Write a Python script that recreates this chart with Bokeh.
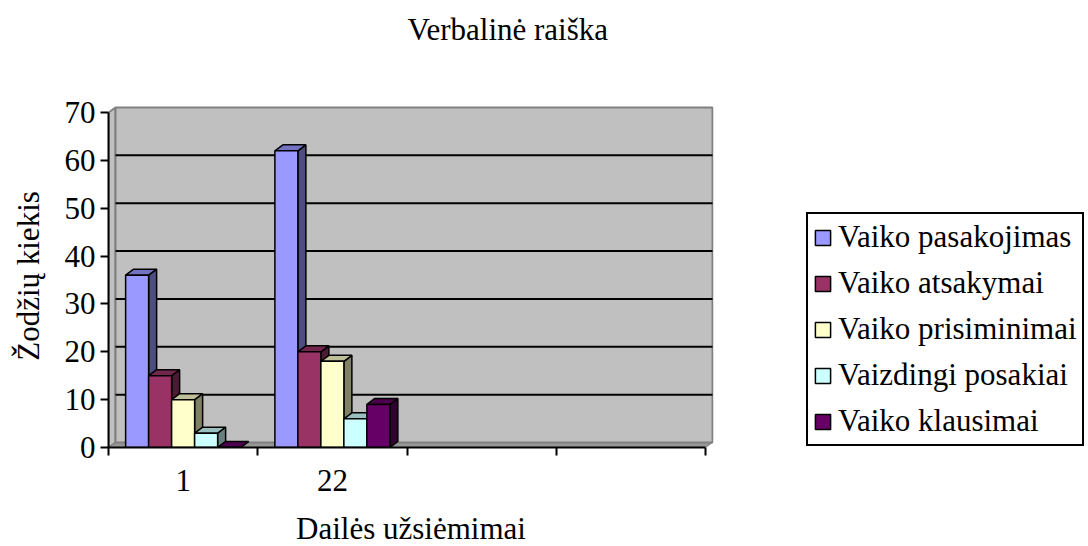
from bokeh.plotting import figure
from bokeh.models import FixedTicker, Legend, LegendItem, Range1d, Title
from bokeh.embed import file_html
from bokeh.resources import INLINE

# ---------------- data ----------------
categories = ["1", "22", "", ""]
series_names = ["Vaiko pasakojimas", "Vaiko atsakymai", "Vaiko prisiminimai",
                "Vaizdingi posakiai", "Vaiko klausimai"]
vaiko_pasakojimas = [36, 62]
vaiko_atsakymai = [15, 20]
vaiko_prisiminimai = [10, 18]
vaizdingi_posakiai = [3, 6]
vaiko_klausimai = [0, 9]
series_values = [vaiko_pasakojimas, vaiko_atsakymai, vaiko_prisiminimai,
                 vaizdingi_posakiai, vaiko_klausimai]
y_ticks = [0, 10, 20, 30, 40, 50, 60, 70]
y_max = 70

title_text = "Verbalinė raiška"
x_title = "Dailės užsiėmimai"
y_title = "Žodžių kiekis"

# ---------------- style ----------------
FONT = "Liberation Serif"
FS = "31px"
TXT = "black"
front_colors = ["#9999FF", "#993366", "#FFFFCC", "#CCFFFF", "#660066"]
side_colors = ["#4D4D80", "#4D1A33", "#808066", "#668080", "#330033"]
top_colors = ["#7373BF", "#73264D", "#BFBF99", "#99BFBF", "#4D004D"]

FW, FH = 605, 343
CAT_PX = 149.25               # pixels per category
VAL_PX = 335.0 / y_max        # pixels per unit value
ux = 1.0 / CAT_PX
uy = 1.0 / VAL_PX
x_end = FW * ux
y_end = FH * uy
n_cat = len(categories)

bar_w = 23 * ux
bar_dx, bar_dy = 8 * ux, 6 * uy
wall_dx, wall_dy = 7 * ux, 5 * uy

p = figure(frame_width=FW, frame_height=FH,
           x_range=Range1d(0, x_end), y_range=Range1d(0, y_end),
           output_backend="svg", toolbar_location=None, title=None,
           min_border_left=108, min_border_right=375,
           min_border_top=104, min_border_bottom=99,
           background_fill_color="white", border_fill_color="white")
p.outline_line_color = None
p.xgrid.visible = False
p.ygrid.visible = False

# ---------------- walls ----------------
p.patch([0, wall_dx, wall_dx, 0], [0, wall_dy, y_max + wall_dy, y_max],
        fill_color="#C0C0C0", line_color="#808080", line_width=2)
p.patch([0, n_cat, n_cat + wall_dx, wall_dx], [0, 0, wall_dy, wall_dy],
        fill_color="#969696", line_color="#808080", line_width=1)
p.quad(left=wall_dx, right=n_cat + wall_dx, bottom=wall_dy, top=y_max + wall_dy,
       fill_color="#C0C0C0", line_color="#808080", line_width=2)
grid_y = [t + wall_dy for t in y_ticks[1:-1]]
p.segment(x0=[wall_dx] * len(grid_y), x1=[n_cat + wall_dx] * len(grid_y),
          y0=grid_y, y1=grid_y, line_color="black", line_width=2)

# ---------------- 3D bars ----------------
group_off = (1.0 - len(series_names) * bar_w) / 2.0
legend_items = []
for k, (name, vals) in enumerate(zip(series_names, series_values)):
    lefts, rights, tops = [], [], []
    side_xs, side_ys, top_xs, top_ys = [], [], [], []
    for ci, v in enumerate(vals):
        x0 = ci + group_off + k * bar_w
        x1 = x0 + bar_w
        lefts.append(x0); rights.append(x1); tops.append(v)
        side_xs.append([x1, x1 + bar_dx, x1 + bar_dx, x1])
        side_ys.append([0, bar_dy, v + bar_dy, v])
        top_xs.append([x0, x0 + bar_dx, x1 + bar_dx, x1])
        top_ys.append([v, v + bar_dy, v + bar_dy, v])
    p.patches(side_xs, side_ys, fill_color=side_colors[k], line_color="black", line_width=1.5)
    p.patches(top_xs, top_ys, fill_color=top_colors[k], line_color="black", line_width=1.5)
    r = p.quad(left=lefts, right=rights, bottom=[0] * len(vals), top=tops,
               fill_color=front_colors[k], line_color="black", line_width=1.5)
    legend_items.append(LegendItem(label=name, renderers=[r]))

# ---------------- axes ----------------
ya = p.yaxis[0]
ya.ticker = FixedTicker(ticks=y_ticks)
ya.bounds = (0, y_max)
ya.major_tick_out = 8
ya.major_tick_in = 0
ya.minor_tick_line_color = None
ya.axis_line_width = 2
ya.major_tick_line_width = 2
ya.major_label_text_font = FONT
ya.major_label_text_font_size = FS
ya.major_label_text_color = TXT
ya.major_label_standoff = 5
ya.axis_label = y_title
ya.axis_label_text_font = FONT
ya.axis_label_text_font_size = FS
ya.axis_label_text_font_style = "normal"
ya.axis_label_text_color = TXT
ya.axis_label_standoff = 16

xa = p.xaxis[0]
centers = [i + 0.5 for i in range(n_cat)]
xa.ticker = FixedTicker(ticks=centers, minor_ticks=list(range(n_cat + 1)))
xa.bounds = (0, n_cat)
xa.major_label_overrides = {c: lab for c, lab in zip(centers, categories)}
xa.major_tick_line_color = None
xa.major_tick_out = 0
xa.minor_tick_out = 8
xa.minor_tick_in = 0
xa.minor_tick_line_color = "black"
xa.minor_tick_line_width = 2
xa.axis_line_width = 2
xa.major_label_text_font = FONT
xa.major_label_text_font_size = FS
xa.major_label_text_color = TXT
xa.major_label_standoff = 14
xa.axis_label = x_title
xa.axis_label_text_font = FONT
xa.axis_label_text_font_size = FS
xa.axis_label_text_font_style = "normal"
xa.axis_label_text_color = TXT
xa.axis_label_standoff = 17

# ---------------- title (with spacer below it) ----------------
spacer = Title(text=" ", text_font_size="1px", standoff=46)
p.add_layout(spacer, "above")
main_title = Title(text=title_text, align="left", offset=299, standoff=18,
                   text_font=FONT, text_font_size=FS, text_font_style="normal",
                   text_color=TXT)
p.add_layout(main_title, "above")

# ---------------- legend ----------------
legend = Legend(items=legend_items, location=(93, 1),
                label_text_font=FONT, label_text_font_size=FS, label_text_color=TXT,
                glyph_width=19, glyph_height=19, label_standoff=6,
                label_height=36, spacing=10, padding=5, margin=0,
                border_line_color="black", border_line_width=2, border_line_alpha=1.0,
                background_fill_color="white", background_fill_alpha=1.0)
p.add_layout(legend, "right")

open("out.html", "w").write(file_html(p, INLINE))
